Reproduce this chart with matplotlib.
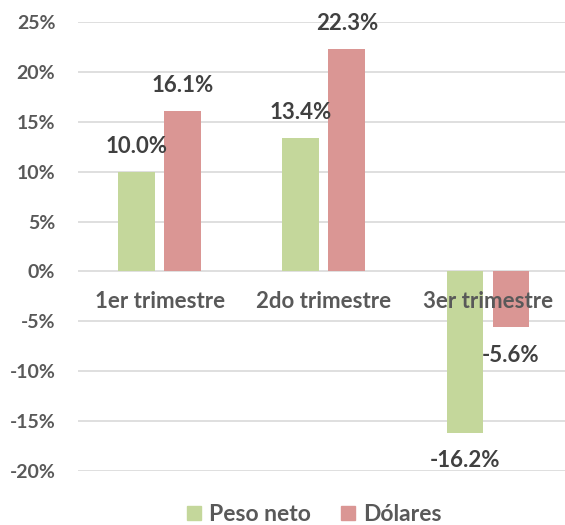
import matplotlib
matplotlib.use("Agg")
import matplotlib.pyplot as plt
from matplotlib.patches import Patch
import numpy as np

categories = ["1er trimestre", "2do trimestre", "3er trimestre"]
series_names = ["Peso neto", "Dólares"]
peso_neto = [10.0, 13.4, -16.2]
dolares = [16.1, 22.3, -5.6]
yticks = [-20, -15, -10, -5, 0, 5, 10, 15, 20, 25]

plt.rcParams['font.family'] = ['Lato', 'DejaVu Sans']

W, H = 565, 525
fig = plt.figure(figsize=(W/100, H/100), dpi=100)
left, right = 77.5, 565
top, bottom = 22, 471
ax = fig.add_axes([left/W, 1-bottom/H, (right-left)/W, (bottom-top)/H])

green = "#C4D79B"
red = "#DA9694"
tick_col = "#595959"
lab_col = "#404040"

x = np.arange(len(categories))
bw = 0.225
off = 0.14
b1 = ax.bar(x - off, peso_neto, bw, color=green, zorder=3)
b2 = ax.bar(x + off, dolares, bw, color=red, zorder=3)

ax.set_ylim(-20, 25)
ax.set_xlim(-0.5, 2.469)
ax.set_yticks(yticks)
ax.set_yticklabels([f"{v}%" for v in yticks], fontsize=14, fontweight='bold', color=tick_col)
ax.tick_params(axis='y', length=0, pad=16)
ax.set_xticks([])
for s in ax.spines.values():
    s.set_visible(False)
ax.grid(axis='y', color="#D9D9D9", linewidth=1.2, zorder=0)

for xi, c in zip(x, categories):
    ax.annotate(c, (xi, 0), xytext=(0, -22), textcoords='offset points',
                ha='center', va='center', fontsize=16, fontweight='bold', color=tick_col, zorder=5)

for bars, vals in ((b1, peso_neto), (b2, dolares)):
    for rect, v in zip(bars, vals):
        cx = rect.get_x() + rect.get_width()/2
        dy = 18 if v >= 0 else -20
        ax.annotate(f"{v:.1f}%", (cx, v), xytext=(0, dy), textcoords='offset points',
                    ha='center', va='center', fontsize=16, fontweight='bold', color=lab_col, zorder=5)

handles = [Patch(color=green), Patch(color=red)]
leg = fig.legend(handles, series_names, loc='center', bbox_to_anchor=(314.5/W, 1-514.5/H),
                 ncol=2, frameon=False, prop={'size': 16.5, 'weight': 'bold'},
                 handlelength=0.62, handleheight=0.62, handletextpad=0.35, columnspacing=1.3,
                 borderpad=0, borderaxespad=0)
for t in leg.get_texts():
    t.set_color(tick_col)

fig.savefig("out.png", dpi=100)
